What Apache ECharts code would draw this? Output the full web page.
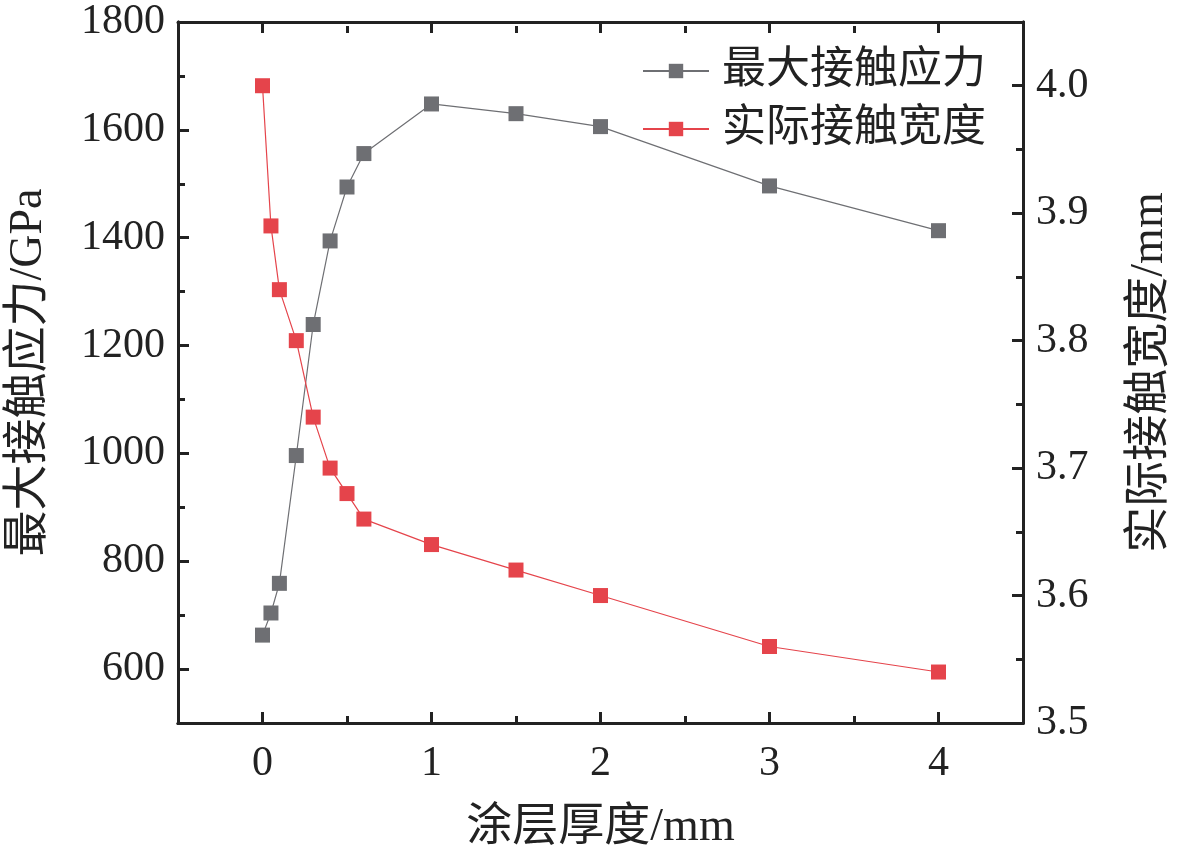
<!DOCTYPE html>
<html><head><meta charset="utf-8">
<script src="https://cdn.jsdelivr.net/npm/echarts@6/dist/echarts.min.js"></script>
<style>html,body{margin:0;padding:0;background:#fff}#c{width:1181px;height:853px}</style>
</head><body><div id="c"></div>
<script>
var thickness = [0, 0.05, 0.1, 0.2, 0.3, 0.4, 0.5, 0.6, 1, 1.5, 2, 3, 4];
var maxStress = [663, 704, 759, 996, 1239, 1394, 1494, 1556, 1648, 1630, 1606, 1496, 1413];
var contactWidth = [4.00, 3.89, 3.84, 3.80, 3.74, 3.70, 3.68, 3.66, 3.64, 3.62, 3.60, 3.56, 3.54];
var xMajor = [0, 1, 2, 3, 4];
var xMinor = [0.5, 1.5, 2.5, 3.5];
var yLeftMajor = [600, 800, 1000, 1200, 1400, 1600, 1800];
var yLeftMinor = [700, 900, 1100, 1300, 1500, 1700];
var yRightMajor = [3.5, 3.6, 3.7, 3.8, 3.9, 4.0];
var yRightMinor = [3.55, 3.65, 3.75, 3.85, 3.95];

var FONT = "'Liberation Serif','Noto Sans CJK SC',serif";
var AX = '#222';
var C_GRAY = '#6e6f73', C_RED = '#e5444b';

function pairs(xs, ys){ return xs.map(function(x,i){ return [x, ys[i]]; }); }

function tickAx(base, vals, len, showLabel, labelMargin, fmt){
  return Object.assign({
    axisLine: {show:true, onZero:false, lineStyle:{color:AX, width:3}},
    axisTick: {show:true, inside:true, length:len, lineStyle:{color:AX, width:3}, customValues: vals},
    axisLabel: showLabel ? {show:true, customValues: vals, color:'#222', fontFamily:FONT, fontSize:42, margin:labelMargin, formatter: fmt} : {show:false, customValues: vals},
    splitLine: {show:false}
  }, base);
}
function topTickAx(vals, len){
  return {
    type:'value', gridIndex:1, min:-0.5, max:4.5, position:'bottom',
    axisLine: {show:false, onZero:false},
    axisTick: {show:true, inside:true, length:len, lineStyle:{color:AX, width:3}, customValues: vals},
    axisLabel: {show:false, customValues: vals},
    splitLine: {show:false}
  };
}
var fmtInt = function(v){ return String(Math.round(v)); };
var fmt1 = function(v){ return Number(v).toFixed(1); };

var chart = echarts.init(document.getElementById('c'));
chart.setOption({
  animation:false,
  backgroundColor:'#fff',
  grid:[
    {left:178, right:158, top:22, bottom:130, containLabel:false, outerBoundsMode:'none'},
    {left:178, right:158, top:22, height:11, containLabel:false, outerBoundsMode:'none'}
  ],
  legend:{
    orient:'vertical', right:190, top:44, itemWidth:66, itemHeight:18, itemGap:14,
    textStyle:{fontFamily:FONT, fontSize:44, color:'#222', padding:[0,0,0,8]},
    data:['最大接触应力','实际接触宽度']
  },
  xAxis:[
    tickAx({type:'value', gridIndex:0, min:-0.5, max:4.5, position:'bottom',
      name:'涂层厚度/mm', nameLocation:'middle', nameGap:82,
      nameTextStyle:{fontFamily:FONT, fontSize:46, color:'#222'}}, xMajor, 11, true, 20, fmtInt),
    tickAx({type:'value', gridIndex:0, min:-0.5, max:4.5, position:'top'}, xMajor, 11, false),
    tickAx({type:'value', gridIndex:0, min:-0.5, max:4.5, position:'bottom'}, xMinor, 7, false),
    topTickAx(xMajor, 11),
    topTickAx(xMinor, 7)
  ],
  yAxis:[
    tickAx({type:'value', gridIndex:0, min:500, max:1800, position:'left',
      name:'最大接触应力/GPa', nameLocation:'middle', nameGap:126, nameRotate:90,
      nameTextStyle:{fontFamily:FONT, fontSize:46, color:'#222'}}, yLeftMajor, 11, true, 13, fmtInt),
    tickAx({type:'value', gridIndex:0, min:3.5, max:4.05, position:'right',
      name:'实际接触宽度/mm', nameLocation:'middle', nameGap:104, nameRotate:90,
      nameTextStyle:{fontFamily:FONT, fontSize:46, color:'#222'}}, yRightMajor, 11, true, 13, fmt1),
    tickAx({type:'value', gridIndex:0, min:500, max:1800, position:'left'}, yLeftMinor, 7, false),
    tickAx({type:'value', gridIndex:0, min:3.5, max:4.05, position:'right'}, yRightMinor, 7, false),
    {type:'value', gridIndex:1, min:0, max:1, show:false}
  ],
  series:[
    {name:'最大接触应力', type:'line', xAxisIndex:0, yAxisIndex:0,
     data:pairs(thickness, maxStress), symbol:'rect', symbolSize:15,
     lineStyle:{color:C_GRAY, width:1.2}, itemStyle:{color:C_GRAY}, z:3},
    {name:'实际接触宽度', type:'line', xAxisIndex:0, yAxisIndex:1,
     data:pairs(thickness, contactWidth), symbol:'rect', symbolSize:15,
     lineStyle:{color:C_RED, width:1.2}, itemStyle:{color:C_RED}, z:3}
  ]
});
</script></body></html>
